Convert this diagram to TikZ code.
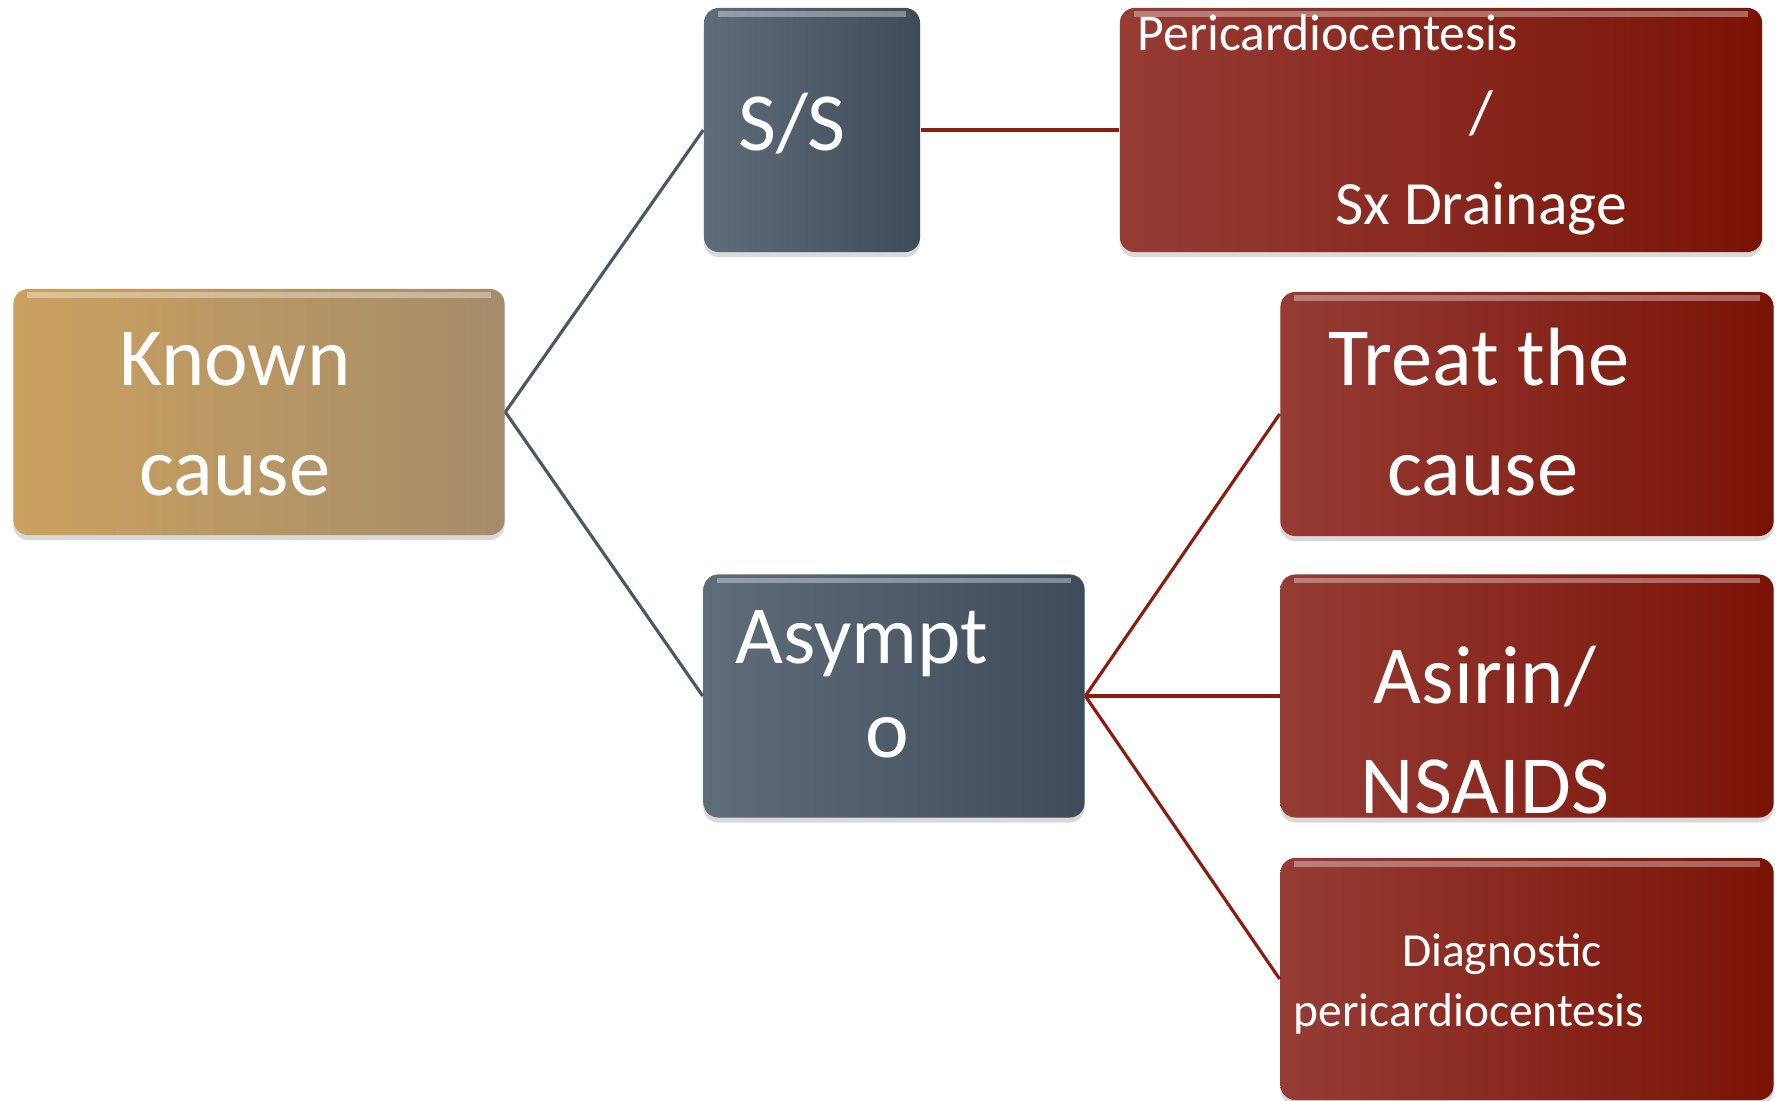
\documentclass[tikz,border=0pt]{standalone}
\usepackage{fontspec}
\setmainfont{Carlito}
\usetikzlibrary{shadows}
\definecolor{goldL}{HTML}{CBA15E}
\definecolor{goldR}{HTML}{A58C6A}
\definecolor{slateL}{HTML}{5F6D7B}
\definecolor{slateR}{HTML}{3E4B59}
\definecolor{slateline}{HTML}{4A5866}
\definecolor{redL}{HTML}{963C35}
\definecolor{redR}{HTML}{7A1306}
\definecolor{redline}{HTML}{8B1C10}

\begin{document}
\begin{tikzpicture}[x=0.01cm,y=-0.01cm,line join=round,
  box/.style={rounded corners=0.15cm,inner sep=0pt,
    drop shadow={opacity=.3,shadow xshift=0cm,shadow yshift=-0.05cm},
    path picture={\draw[white,opacity=.35,line width=1.5pt]
      ([xshift=0.14cm,yshift=-0.06cm]path picture bounding box.north west)--
      ([xshift=-0.14cm,yshift=-0.06cm]path picture bounding box.north east);}},
  goldbox/.style={box,left color=goldL,right color=goldR},
  slatebox/.style={box,left color=slateL,right color=slateR},
  redbox/.style={box,left color=redL,right color=redR},
  big/.style={text=white,anchor=base,inner sep=0pt,font=\fontsize{23.5}{28}\selectfont},
  mid/.style={text=white,anchor=base,inner sep=0pt,font=\fontsize{17.5}{21}\selectfont},
  small/.style={text=white,anchor=base,inner sep=0pt,font=\fontsize{14.7}{18}\selectfont},
  tiny/.style={text=white,anchor=base,inner sep=0pt,font=\fontsize{13.5}{16}\selectfont},
  slink/.style={draw=slateline,line width=0.9pt},
  rlink/.style={draw=redline,line width=0.9pt}]
\useasboundingbox (0,0) rectangle (1777,1100);

% boxes
\node[goldbox,minimum width=4.91cm,minimum height=2.46cm] (known) at (259,412) {};
\node[slatebox,minimum width=2.16cm,minimum height=2.44cm] (ss) at (812,130) {};
\node[redbox,minimum width=6.42cm,minimum height=2.44cm] (peri) at (1441,130) {};
\node[slatebox,minimum width=3.81cm,minimum height=2.43cm] (asym) at (894,696) {};
\node[redbox,minimum width=4.93cm,minimum height=2.44cm] (treat) at (1527,414) {};
\node[redbox,minimum width=4.93cm,minimum height=2.43cm] (asirin) at (1527,696) {};
\node[redbox,minimum width=4.93cm,minimum height=2.42cm] (diag) at (1527,979) {};

% connectors
\draw[slink] (known.east)--(ss.west);
\draw[slink] (known.east)--(asym.west);
\draw[rlink] (ss.east)--(peri.west);
\draw[rlink] (asym.east)--(treat.west);
\draw[rlink] (asym.east)--(asirin.west);
\draw[rlink] (asym.east)--(diag.west);

% texts
\node[big] (known-a) at (235,385) {Known};
\node[big] (known-b) at (235,495) {cause};
\node[big] (ss-a) at (792,150) {S/S};
\node[small,anchor=base west] (peri-a) at (1137,51) {Pericardiocentesis};
\node[mid] (peri-b) at (1481,133) {/};
\node[mid] (peri-c) at (1481,224) {Sx Drainage};
\node[big] (asym-a) at (862,663) {Asympt};
\node[big] (asym-b) at (887,757) {o};
\node[big] (treat-a) at (1479,385) {Treat the};
\node[big] (treat-b) at (1483,495) {cause};
\node[big] (asirin-a) at (1485,703) {Asirin/};
\node[big] (asirin-b) at (1485,813) {NSAIDS};
\node[tiny] (diag-a) at (1502,966) {Diagnostic};
\node[tiny] (diag-b) at (1469,1026) {pericardiocentesis};
\end{tikzpicture}
\end{document}
